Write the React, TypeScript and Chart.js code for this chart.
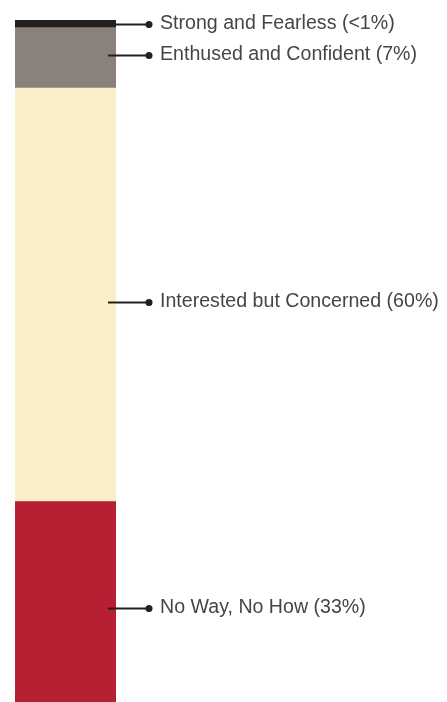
import React, { useEffect, useRef } from "react";
import { Chart, registerables } from "chart.js";

Chart.register(...registerables);

const categories = ["Bicyclists"];
const segmentLabels = [
  "Strong and Fearless (<1%)",
  "Enthused and Confident (7%)",
  "Interested but Concerned (60%)",
  "No Way, No How (33%)",
];
const segmentValues = [1, 8.9, 60.6, 29.5];
const segmentColors = ["#231f20", "#8b817c", "#f8efc8", "#b71f33"];
const labelNudge = [0.5, -2.5, 7.5, 6.5];

const leaderPlugin = {
  id: "leaders",
  afterDatasetsDraw(chart: any) {
    const ctx = chart.ctx;
    ctx.save();
    chart.data.datasets.forEach((ds: any, i: number) => {
      const meta = chart.getDatasetMeta(i);
      const bar: any = meta.data[0];
      if (!bar) return;
      const top = Math.min(bar.y, bar.base);
      const bottom = Math.max(bar.y, bar.base);
      const y = Math.round((top + bottom) / 2 + labelNudge[i]) + 0.5;
      const right = bar.x + bar.width / 2;
      const startX = i === 0 ? right : right - 8;
      const dotX = right + 33;
      ctx.strokeStyle = "#231f20";
      ctx.lineWidth = 2;
      ctx.beginPath();
      ctx.moveTo(startX, y);
      ctx.lineTo(dotX, y);
      ctx.stroke();
      ctx.fillStyle = "#231f20";
      ctx.beginPath();
      ctx.arc(dotX, y, 3.5, 0, Math.PI * 2);
      ctx.fill();
      ctx.fillStyle = "#454545";
      ctx.font = "19.6px 'Liberation Sans', Arial, sans-serif";
      ctx.textBaseline = "middle";
      ctx.textAlign = "left";
      ctx.fillText(ds.label, dotX + 11, y - 1);
    });
    ctx.restore();
  },
};

export default function App() {
  const ref = useRef<HTMLCanvasElement>(null);
  useEffect(() => {
    document.body.style.margin = "0";
    const canvas = ref.current!;
    const chart = new Chart(canvas, {
      type: "bar",
      data: {
        labels: categories,
        datasets: segmentLabels.map((label, i) => ({
          label,
          data: [segmentValues[i]],
          backgroundColor: segmentColors[i],
          borderWidth: 0,
          barPercentage: 1,
          categoryPercentage: 1,
        })),
      },
      options: {
        animation: false,
        responsive: false,
        devicePixelRatio: 1,
        layout: { padding: { left: 15, right: 331, top: 20, bottom: 0 } },
        plugins: { legend: { display: false }, tooltip: { enabled: false } },
        scales: {
          x: { display: false, stacked: true },
          y: { display: false, stacked: true, min: 0, max: 100, reverse: true },
        },
      },
      plugins: [leaderPlugin],
    });
    return () => chart.destroy();
  }, []);
  return (
    <div style={{ position: "absolute", left: 0, top: 0, width: 447, height: 702 }}>
      <canvas ref={ref} width={447} height={702} style={{ display: "block" }} />
    </div>
  );
}
